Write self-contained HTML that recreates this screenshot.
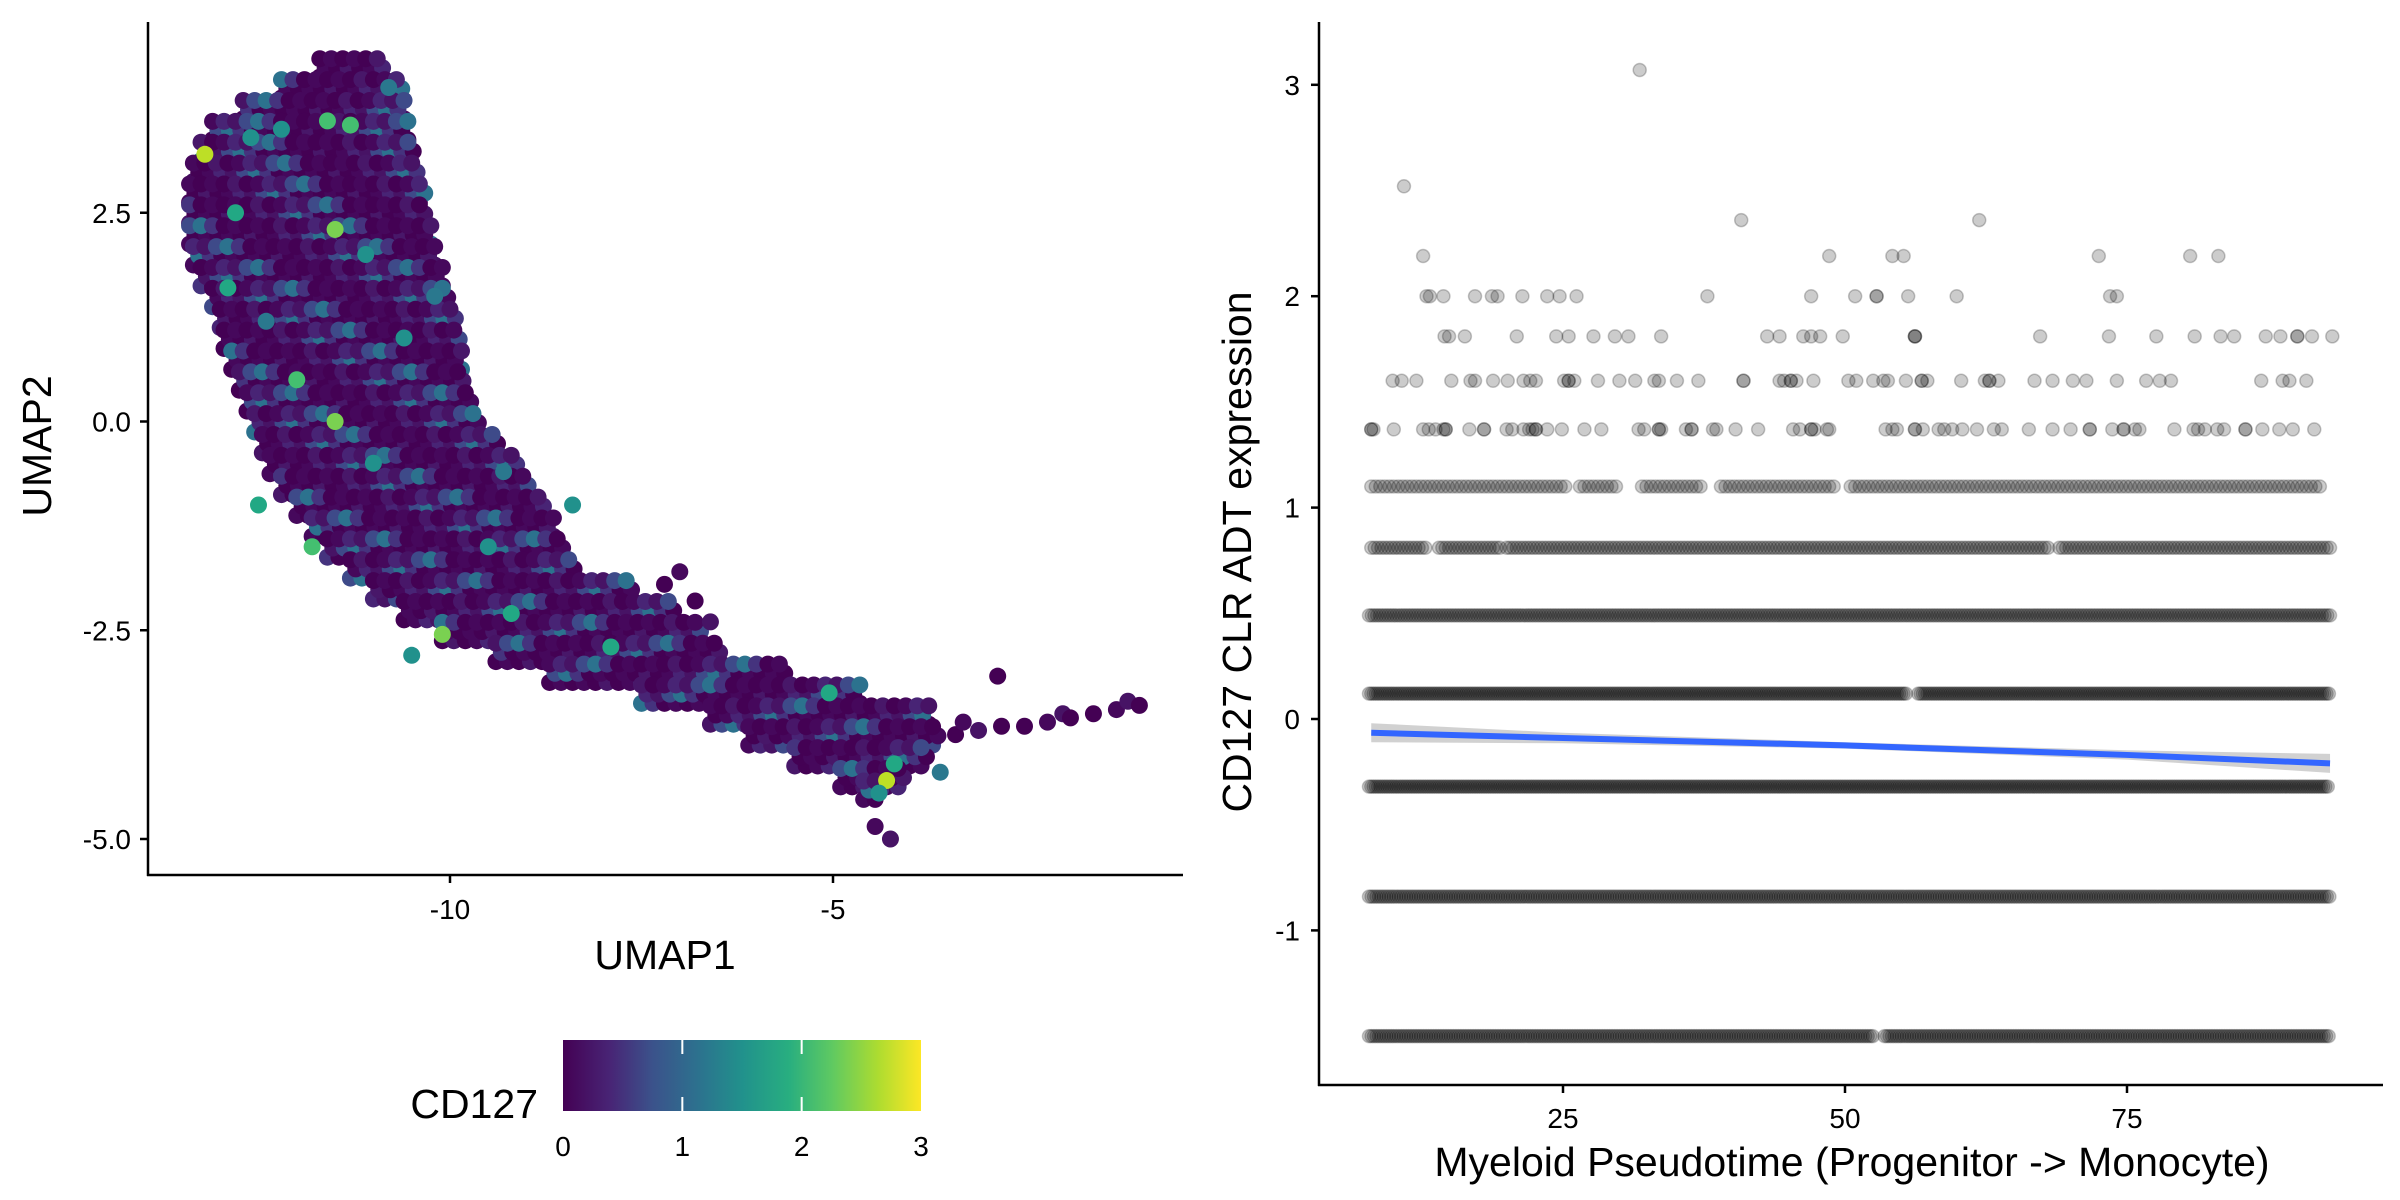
<!DOCTYPE html>
<html><head><meta charset="utf-8">
<style>
html,body{margin:0;padding:0;background:#fff;}
svg{display:block;font-family:"Liberation Sans",sans-serif;}
</style></head>
<body>
<svg id="fig" width="2400" height="1200" viewBox="0 0 2400 1200" xmlns="http://www.w3.org/2000/svg">
<defs>
<linearGradient id="viridis" x1="0" x2="1" y1="0" y2="0">
<stop offset="0" stop-color="#440154"/><stop offset="0.13" stop-color="#482475"/>
<stop offset="0.25" stop-color="#3b528b"/><stop offset="0.38" stop-color="#2c728e"/>
<stop offset="0.5" stop-color="#21918c"/><stop offset="0.63" stop-color="#28ae80"/>
<stop offset="0.75" stop-color="#5ec962"/><stop offset="0.88" stop-color="#addc30"/>
<stop offset="1" stop-color="#fde725"/></linearGradient>
</defs>
<g id="left"></g>
<g id="right"></g>
</svg>
<script>
// ---------- UMAP data ----------
const umapRowY =   [4.25,4.0,3.75,3.5,3.25,3.0,2.75,2.5,2.25,2.0,1.75,1.5,1.25,1.0,0.75,0.5,0.25,0,-0.25,-0.5,-0.75,-1.0,-1.25,-1.5,-1.75,-2.0,-2.25,-2.5,-2.75,-3.0,-3.25,-3.5,-3.75,-4.0,-4.25,-4.4];
const umapRowMin = [-11.7,-12.2,-12.7,-13.1,-13.25,-13.35,-13.4,-13.4,-13.4,-13.35,-13.25,-13.1,-13.0,-12.95,-12.85,-12.75,-12.65,-12.55,-12.45,-12.35,-12.2,-12.0,-11.8,-11.6,-11.3,-11.0,-10.6,-10.1,-9.4,-8.7,-7.5,-6.6,-6.1,-5.5,-4.9,-4.6];
const umapRowMax = [-10.8,-10.6,-10.55,-10.5,-10.45,-10.35,-10.3,-10.25,-10.2,-10.15,-10.05,-9.95,-9.9,-9.85,-9.8,-9.75,-9.65,-9.55,-9.35,-9.1,-8.9,-8.7,-8.6,-8.5,-8.3,-7.6,-7.0,-6.7,-6.4,-5.6,-4.6,-3.7,-3.6,-3.7,-4.0,-4.3];
const tailX = [-3.4,-3.3,-3.1,-2.8,-2.5,-2.2,-2.0,-1.9,-1.6,-1.3,-1.15,-1.0,-2.85,-4.45,-4.25,-7.2,-6.8,-7.0,-6.6];
const tailY = [-3.75,-3.6,-3.7,-3.65,-3.65,-3.6,-3.5,-3.55,-3.5,-3.45,-3.35,-3.4,-3.05,-4.85,-5.0,-1.95,-2.15,-1.8,-2.4];
const hiX = [-13.2,-11.5,-11.5,-10.1,-4.3,-11.6,-11.3,-12.8,-12.0,-11.8,-9.2,-7.9,-5.05,-4.2,-12.5,-10.6,-11.1,-12.9,-12.2,-10.8,-9.5,-4.4,-3.6,-9.3,-12.4,-11.0,-10.5,-12.6,-10.2,-8.4];
const hiY = [3.2,2.3,0.0,-2.55,-4.3,3.6,3.55,2.5,0.5,-1.5,-2.3,-2.7,-3.25,-4.1,-1.0,1.0,2.0,1.6,3.5,4.0,-1.5,-4.45,-4.2,-0.6,1.2,-0.5,-2.8,3.4,1.5,-1.0];
const hiV = [2.6,2.5,2.5,2.3,2.8,2.1,2.2,1.8,2.0,2.0,1.9,1.8,1.9,1.9,1.7,1.6,1.6,1.7,1.5,1.3,1.4,1.4,1.3,1.2,1.2,1.4,1.4,1.6,1.3,1.5];
const umapXTicks = [-10,-5];
const umapYTicks = [2.5,0.0,-2.5,-5.0];
const cbTicks = [0,1,2,3];

// ---------- pseudotime data ----------
const sparseLevels = [3.07,2.52,2.36,2.19,2.0,1.81,1.6,1.37];
const sparseX = [
 [31.8],
 [10.9],
 [40.8,61.9],
 [12.6,48.6,54.2,55.2,72.5,80.6,83.1],
 [12.9,13.2,14.4,17.2,18.7,19.2,21.4,23.6,24.7,26.2,37.8,47.0,50.9,52.8,52.8,55.6,59.9,73.5,74.1],
 [14.5,14.9,16.3,20.9,24.4,25.5,27.7,29.6,30.8,33.7,43.1,44.2,46.3,47.0,47.8,49.8,56.2,56.2,56.2,67.3,73.4,77.6,81.0,83.3,84.5,87.3,88.6,90.1,90.1,91.4,93.2],
 [9.9,10.7,12.0,15.1,16.8,17.2,18.8,20.1,21.5,22.1,22.6,25.1,25.5,25.5,26.0,28.1,30.0,31.4,33.1,33.5,35.1,37.0,41.0,41.0,44.2,44.6,45.2,45.2,45.7,47.2,50.3,51.0,52.5,53.4,53.8,55.4,56.8,56.8,57.3,60.3,62.4,62.8,62.8,63.6,66.8,68.4,70.2,71.4,74.1,76.7,77.9,78.9,86.9,88.8,89.4,90.9],
 [8.0,8.0,8.2,10.0,12.6,13.1,13.7,14.4,14.6,14.6,16.7,18.0,18.0,20.0,20.5,21.5,22.0,22.3,22.6,22.6,23.6,24.9,26.9,28.4,31.7,32.2,33.5,33.5,33.7,35.9,36.4,36.4,38.3,38.6,40.3,42.3,45.4,46.0,47.0,47.0,47.3,48.4,48.6,53.6,54.2,54.6,56.2,56.2,56.9,58.3,58.8,59.5,60.4,61.7,63.2,63.9,66.3,68.4,70.0,71.7,71.7,73.7,74.7,74.7,75.7,76.1,79.2,80.9,81.3,81.9,83.0,83.6,85.5,85.5,87.0,88.5,89.7,91.6]
];
const denseLevels = [1.1,0.81,0.49,0.12,-0.32,-0.84,-1.5];
const denseSegments = [
 [[8,25.5],[26.5,30],[32,37.5],[39,49],[50.5,92.5]],
 [[8,13],[14,19.5],[20,68],[69,93]],
 [[7.8,93]],
 [[7.8,55.5],[56.5,93]],
 [[7.8,93]],
 [[7.8,93]],
 [[7.8,52.5],[53.5,93]]
];
const denseStep = [0.4,0.3,0.24,0.2,0.2,0.22,0.22];
const smoothX = [8,25,50,75,93];
const smoothY = [-0.065,-0.09,-0.125,-0.17,-0.21];
const smoothSE = [0.045,0.025,0.015,0.022,0.045];
const ptXTicks = [25,50,75];
const ptYTicks = [3,2,1,0,-1];

const NS="http://www.w3.org/2000/svg";
function mk(parent,tag,attrs,text){const e=document.createElementNS(NS,tag);for(const k in attrs)e.setAttribute(k,attrs[k]);if(text!==undefined)e.textContent=text;parent.appendChild(e);return e;}
const viridis=["#440154","#482475","#414487","#355f8d","#2a788e","#21918c","#22a884","#44bf70","#7ad151","#bddf26","#fde725"];
function vcol(v){const t=Math.max(0,Math.min(1,v/3))*10;return viridis[Math.round(t)];}

// ---------- left panel ----------
const L=document.getElementById('left');
const ux=v=>450+(v+10)*76.6, uy=v=>421.5-v*83.5;
const body=mk(L,'g',{});


const shades=["#440154","#46085c","#471365","#440154","#45337e","#46085c","#440154","#3e4a89","#481769","#440154","#482475","#46085c","#2c728e"];
umapRowY.forEach((y,r)=>{
  let j=0;
  for(let yy=y-0.125;yy<y+0.125;yy+=0.11){
    let i=0;
    for(let xx=umapRowMin[r]+(j%2)*0.07;xx<=umapRowMax[r];xx+=0.15){
      const c=mk(body,'circle',{cx:ux(xx),cy:uy(yy),r:8.5,fill:shades[(i*5+j*11+r*3)%shades.length]});
      
      
      i++;
    }
    j++;
  }
});
tailX.forEach((x,k)=>{const c=mk(body,'circle',{cx:ux(x),cy:uy(tailY[k]),r:8.5,fill:shades[k%4]});
  
  });
hiX.forEach((x,k)=>{const c=mk(body,'circle',{cx:ux(x),cy:uy(hiY[k]),r:8.5,fill:vcol(hiV[k])});
  
  });
let a=mk(L,'line',{x1:148,y1:22,x2:148,y2:876,stroke:'#000','stroke-width':2.5});

a=mk(L,'line',{x1:147,y1:875,x2:1183,y2:875,stroke:'#000','stroke-width':2.5});

umapXTicks.forEach(t=>{mk(L,'line',{x1:ux(t),y1:875,x2:ux(t),y2:883,stroke:'#000','stroke-width':2.5});
  const tx=mk(L,'text',{x:ux(t),y:919,'font-size':28,'text-anchor':'middle',fill:'#000'},String(t));
  });
umapYTicks.forEach(t=>{mk(L,'line',{x1:140,y1:uy(t),x2:148,y2:uy(t),stroke:'#000','stroke-width':2.5});
  const tx=mk(L,'text',{x:131,y:uy(t)+10,'font-size':28,'text-anchor':'end',fill:'#000'},t.toFixed(1));
  });
let t=mk(L,'text',{x:665,y:969,'font-size':41,'text-anchor':'middle'},'UMAP1');

t=mk(L,'text',{x:51,y:446,'font-size':41,'text-anchor':'middle',transform:'rotate(-90 51 446)'},'UMAP2');

// colorbar
const cb=mk(L,'g',{});

const cx=v=>563+v*(921-563)/3;
mk(cb,'rect',{x:563,y:1040,width:358,height:71,fill:'url(#viridis)'});
cbTicks.forEach(v=>{
  if(v>0&&v<3){mk(cb,'line',{x1:cx(v),y1:1040,x2:cx(v),y2:1054,stroke:'#fff','stroke-width':2});
    mk(cb,'line',{x1:cx(v),y1:1097,x2:cx(v),y2:1111,stroke:'#fff','stroke-width':2});}
  const tl=mk(cb,'text',{x:cx(v),y:1156,'font-size':28,'text-anchor':'middle'},String(v));
  
});
t=mk(cb,'text',{x:538,y:1118,'font-size':41,'text-anchor':'end'},'CD127');


// ---------- right panel ----------
const R=document.getElementById('right');
const px=v=>1563+(v-25)*11.28, py=v=>719-v*211.4;
const pts=mk(R,'g',{fill:'rgba(0,0,0,0.2)',stroke:'rgba(0,0,0,0.22)','stroke-width':1.5});

denseLevels.forEach((lv,i)=>{
  denseSegments[i].forEach(seg=>{
    for(let x=seg[0];x<=seg[1];x+=denseStep[i]){
      const c=mk(pts,'circle',{cx:px(x),cy:py(lv),r:6.5});
      
      
    }
  });
});
sparseLevels.forEach((lv,i)=>{
  sparseX[i].forEach(x=>{
    const c=mk(pts,'circle',{cx:px(x),cy:py(lv),r:6.5});
    
    
  });
});
let up='',lo='',ln='';
smoothX.forEach((x,i)=>{up+=(i?'L':'M')+px(x)+','+py(smoothY[i]+smoothSE[i]);ln+=(i?'L':'M')+px(x)+','+py(smoothY[i]);});
for(let i=smoothX.length-1;i>=0;i--)lo+='L'+px(smoothX[i])+','+py(smoothY[i]-smoothSE[i]);
let p=mk(R,'path',{d:up+lo+'Z',fill:'rgba(153,153,153,0.45)'});

p=mk(R,'path',{d:ln,fill:'none',stroke:'#3366FF','stroke-width':6});

a=mk(R,'line',{x1:1319,y1:22,x2:1319,y2:1086,stroke:'#000','stroke-width':2.5});

a=mk(R,'line',{x1:1318,y1:1085,x2:2383,y2:1085,stroke:'#000','stroke-width':2.5});

ptXTicks.forEach(v=>{mk(R,'line',{x1:px(v),y1:1085,x2:px(v),y2:1093,stroke:'#000','stroke-width':2.5});
  const tx=mk(R,'text',{x:px(v),y:1128,'font-size':28,'text-anchor':'middle'},String(v));
  });
ptYTicks.forEach(v=>{mk(R,'line',{x1:1311,y1:py(v),x2:1319,y2:py(v),stroke:'#000','stroke-width':2.5});
  const tx=mk(R,'text',{x:1300,y:py(v)+10,'font-size':28,'text-anchor':'end'},String(v));
  });
t=mk(R,'text',{x:1852,y:1176,'font-size':41,'text-anchor':'middle'},'Myeloid Pseudotime (Progenitor -> Monocyte)');

t=mk(R,'text',{x:1251,y:552,'font-size':41,'text-anchor':'middle',transform:'rotate(-90 1251 552)'},'CD127 CLR ADT expression');

</script>
</body></html>
